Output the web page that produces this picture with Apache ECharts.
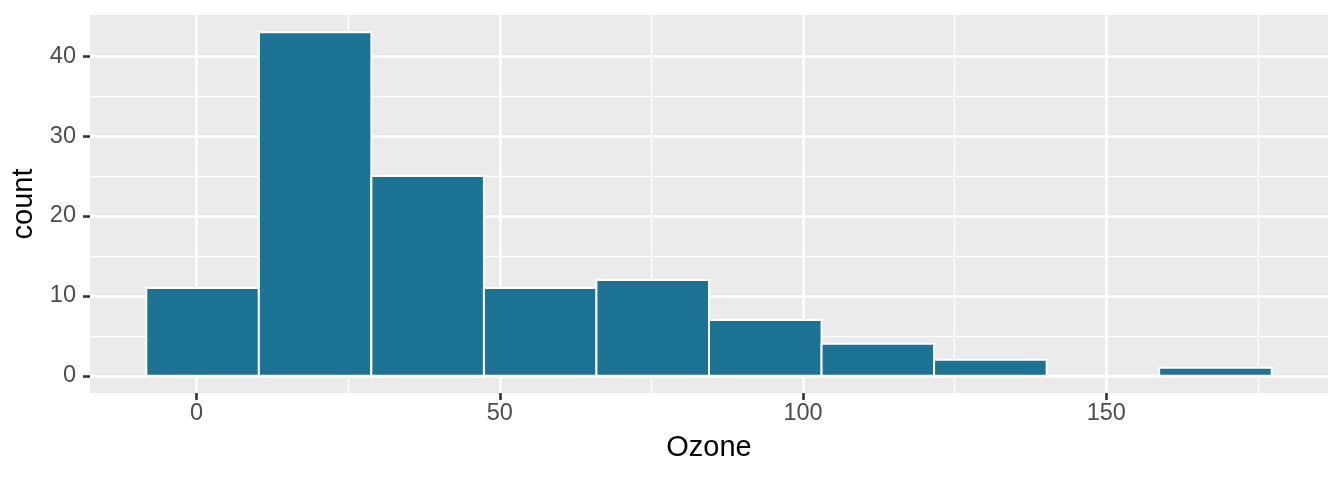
<!DOCTYPE html>
<html>
<head>
    <meta charset="utf-8">
    <title>Ozone histogram</title>
    <script src="https://cdn.jsdelivr.net/npm/echarts@6/dist/echarts.min.js"></script>
    <style>
        html, body { margin: 0; padding: 0; background: #fff; }
    </style>
</head>
<body>
    <div id="main" style="width: 1344px;height:480px;"></div>
    <script type="text/javascript">
        // bin edges (10 bins, width ~18.56) and counts per bin
        var binLeft = [-8.28, 10.28, 28.83, 47.39, 65.94, 84.5, 103.06, 121.61, 140.17, 158.72];
        var binRight = [10.28, 28.83, 47.39, 65.94, 84.5, 103.06, 121.61, 140.17, 158.72, 177.28];
        var counts = [11, 43, 25, 11, 12, 7, 4, 2, 0, 1];

        var xMajor = [0, 50, 100, 150];
        var xMinor = [25, 75, 125, 175];
        var yMajor = [0, 10, 20, 30, 40];
        var yMinor = [5, 15, 25, 35];

        var xRange = [-17.56, 186.56];
        var yRange = [-2.15, 45.15];

        var bins = [];
        for (var i = 0; i < counts.length; i++) {
            bins.push([binLeft[i], binRight[i], counts[i]]);
        }

        var font = 'Liberation Sans, Arial, Helvetica, sans-serif';
        var myChart = echarts.init(document.getElementById('main'));

        var noLine = { show: false, onZero: false };

        option = {
            animation: false,
            grid: {
                left: 90, right: 16, top: 15, bottom: 87,
                show: true,
                backgroundColor: '#EBEBEB',
                borderWidth: 0
            },
            xAxis: [{
                type: 'value',
                min: xRange[0],
                max: xRange[1],
                name: 'Ozone',
                nameLocation: 'middle',
                nameGap: 40,
                nameTextStyle: { color: '#000', fontSize: 29, fontFamily: font },
                axisLine: noLine,
                axisTick: { show: true, length: 7, customValues: xMajor,
                    lineStyle: { color: '#333333', width: 2.6 } },
                axisLabel: { customValues: xMajor, margin: 9, color: '#4D4D4D', fontSize: 23.5, fontFamily: font },
                splitLine: { show: true, lineStyle: { color: '#fff', width: 2.6 } }
            }, {
                type: 'value',
                min: xRange[0],
                max: xRange[1],
                position: 'bottom',
                axisLine: noLine,
                axisTick: { show: false, customValues: xMinor },
                axisLabel: { show: false, customValues: xMinor },
                splitLine: { show: true, lineStyle: { color: '#fff', width: 1.3 } }
            }],
            yAxis: [{
                type: 'value',
                min: yRange[0],
                max: yRange[1],
                name: 'count',
                nameLocation: 'middle',
                nameGap: 50,
                nameTextStyle: { color: '#000', fontSize: 29, fontFamily: font },
                axisLine: noLine,
                axisTick: { show: true, length: 7, customValues: yMajor,
                    lineStyle: { color: '#333333', width: 2.6 } },
                axisLabel: { customValues: yMajor, margin: 14, color: '#4D4D4D', fontSize: 23.5, fontFamily: font },
                splitLine: { show: true, lineStyle: { color: '#fff', width: 2.6 } }
            }, {
                type: 'value',
                min: yRange[0],
                max: yRange[1],
                position: 'left',
                axisLine: noLine,
                axisTick: { show: false, customValues: yMinor },
                axisLabel: { show: false, customValues: yMinor },
                splitLine: { show: true, lineStyle: { color: '#fff', width: 1.3 } }
            }],
            series: [{
                type: 'custom',
                xAxisIndex: 0,
                yAxisIndex: 0,
                encode: { x: [0, 1], y: 2 },
                data: bins,
                renderItem: function (params, api) {
                    var p0 = api.coord([api.value(0), api.value(2)]);
                    var p1 = api.coord([api.value(1), 0]);
                    return {
                        type: 'rect',
                        shape: { x: p0[0], y: p0[1], width: p1[0] - p0[0], height: p1[1] - p0[1] },
                        style: { fill: '#1D7394', stroke: '#ffffff', lineWidth: 2 }
                    };
                }
            }]
        };

        myChart.setOption(option);
    </script>
</body>
</html>
